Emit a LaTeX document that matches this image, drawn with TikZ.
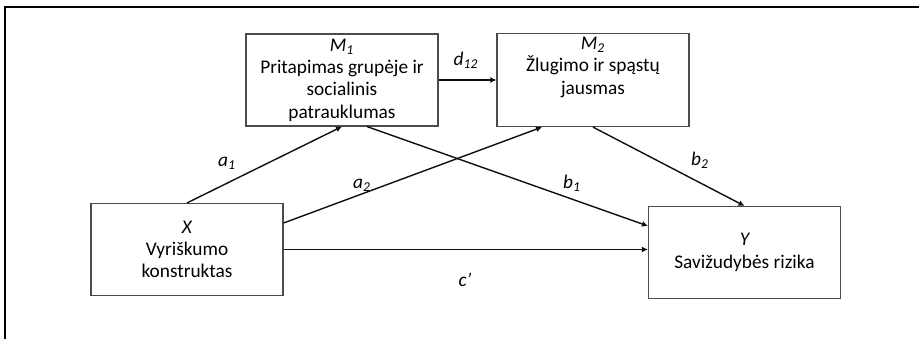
\documentclass[tikz,border=0pt]{standalone}
\usepackage{fontspec}
\setmainfont{Carlito}
\usetikzlibrary{arrows.meta,calc,positioning}
\definecolor{boxgray}{RGB}{75,75,75}
\definecolor{pathblack}{RGB}{15,15,15}

\begin{document}
\begin{tikzpicture}[>={Latex[length=3.4pt,width=3.4pt]},
  var/.style={draw=boxgray,line width=0.65pt,minimum width=3.84cm,minimum height=1.84cm,
    align=center,inner sep=2pt,font=\fontsize{11}{12.7}\selectfont},
  effect/.style={->,line width=0.8pt,pathblack},
  coef/.style={font=\fontsize{11}{12}\selectfont\itshape,inner sep=1pt}]
 \useasboundingbox (0,0) rectangle (18.38,6.78);
 \draw[line width=0.9pt] (0.1,0) -- (0.1,6.64) -- (18.38,6.64);
 % variables
 \node[var] (M1) at (6.84,5.18)
   {{\itshape M\textsubscript{1}}\\Pritapimas grupėje ir\\socialinis\\patrauklumas};
 \node[var] (M2) at (11.86,5.18)
   {{\itshape M\textsubscript{2}}\\Žlugimo ir spąstų\\jausmas\\\strut};
 \node[var] (X) at (3.74,1.79)
   {{\itshape X}\\Vyriškumo\\konstruktas};
 \node[var] (Y) at (14.89,1.73)
   {{\itshape Y}\\Savižudybės rizika};
 % paths
 \draw[effect] (X.north) -- (M1.south);
 \draw[effect] ([yshift=0.53cm]X.east) -- ([xshift=-1.02cm]M2.south);
 \draw[effect] ([xshift=0.5cm]M1.south) -- ([yshift=0.53cm]Y.west);
 \draw[effect] (M2.south) -- (Y.north);
 \draw[effect] (X.east) -- (X.east -| Y.west);
 \draw[effect] (M1) -- (M2);
 % coefficients
 \node[coef] (a1) at (4.54,3.52) {a\textsubscript{1}};
 \node[coef] (a2) at (7.24,3.08) {a\textsubscript{2}};
 \node[coef] (b1) at (11.44,3.12) {b\textsubscript{1}};
 \node[coef] (b2) at (14.0,3.58) {b\textsubscript{2}};
 \node[coef] (c) at (9.3,1.18) {c’};
 \node[coef] (d12) at (9.32,5.58) {d\textsubscript{12}};
\end{tikzpicture}
\end{document}
